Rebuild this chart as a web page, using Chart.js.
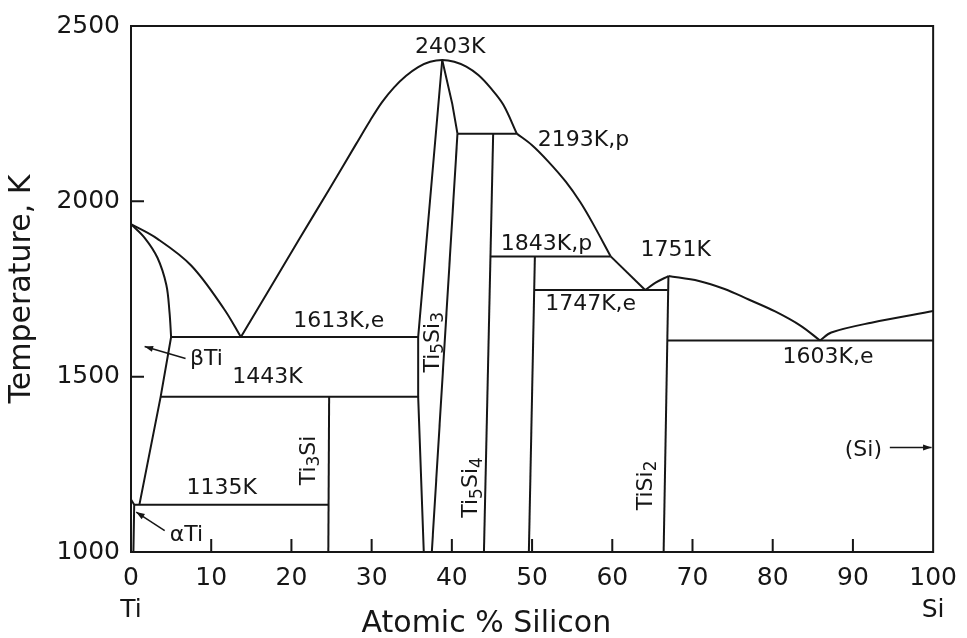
<!DOCTYPE html>
<html>
<head>
<meta charset="utf-8">
<title>Ti-Si phase diagram</title>
<script src="https://cdn.jsdelivr.net/npm/chart.js@4.4.1/dist/chart.umd.min.js"></script>
<style>
  html, body { margin: 0; padding: 0; background: #fff; }
  #wrap { width: 967px; height: 638px; }
</style>
</head>
<body>
<div id="wrap"><canvas id="myChart" width="967" height="638"></canvas></div>
<script>
// x = atomic % silicon, y = temperature in K
var xTicks = [0, 10, 20, 30, 40, 50, 60, 70, 80, 90, 100];
var yTicks = [1000, 1500, 2000, 2500];
var xEndNames = { 0: 'Ti', 100: 'Si' };

// liquidus curves
var tiLiquidus = [[0, 1935], [3.3, 1893], [7.5, 1817], [11.6, 1693], [13.7, 1613]];
var ti5si3Liquidus = [[13.7, 1613], [21.0, 1893], [24.7, 2034], [28.0, 2161], [29.8, 2230], [31.3, 2283],
  [32.8, 2325], [34.3, 2358], [35.8, 2383], [37.3, 2398], [38.8, 2403], [40.3, 2398], [41.8, 2384],
  [43.3, 2360], [44.8, 2324], [46.4, 2276], [48.1, 2193]];
var ti5si4Liquidus = [[48.1, 2193], [50.0, 2160], [52.0, 2114], [54.2, 2056], [56.0, 1998], [57.5, 1940], [59.8, 1843]];
var tisiLiquidus = [[59.8, 1843], [64.1, 1747]];
var tisi2LiquidusLeft = [[64.1, 1747], [65.4, 1768], [67.0, 1787]];
var tisi2LiquidusRight = [[67.0, 1787], [70.8, 1773], [74.0, 1750], [77.0, 1720], [80.3, 1686], [83.5, 1645], [85.9, 1603]];
var siLiquidus = [[85.9, 1603], [87.3, 1626], [92.3, 1654], [100, 1687]];

// beta / alpha Ti boundaries
var betaTiSolidus = [[0, 1935], [1.7, 1896], [3.3, 1839], [4.4, 1762], [4.8, 1684], [5.0, 1613]];
var betaTiSolvus = [[5.0, 1613], [3.7, 1443], [1.05, 1135]];
var alphaTiSolvus = [[0, 1150], [0.4, 1135], [0.3, 1000]];

// isotherms
var iso1135 = [[0.4, 1135], [24.6, 1135]];
var iso1443 = [[3.7, 1443], [35.8, 1443]];
var iso1613 = [[5.0, 1613], [35.8, 1613]];
var iso2193 = [[40.7, 2193], [48.1, 2193]];
var iso1843 = [[44.8, 1843], [59.8, 1843]];
var iso1747 = [[50.3, 1747], [66.9, 1747]];
var iso1603 = [[66.85, 1603], [100, 1603]];

// compound lines
var ti3si = [[24.7, 1443], [24.6, 1000]];
var ti5si3Left = [[38.8, 2403], [35.8, 1613], [35.8, 1443], [36.5, 1000]];
var ti5si3RightTop = [[38.8, 2403], [40.05, 2278], [40.7, 2193]];
var ti5si3RightLow = [[40.7, 2193], [37.5, 1000]];
var ti5si4 = [[45.15, 2193], [44.0, 1000]];
var tisi = [[50.35, 1843], [49.6, 1000]];
var tisi2 = [[67.0, 1787], [66.4, 1000]];

var INK = '#161616';

var lines = [
  { pts: tiLiquidus, smooth: true },
  { pts: ti5si3Liquidus, smooth: true },
  { pts: ti5si4Liquidus, smooth: true },
  { pts: tisiLiquidus, smooth: false },
  { pts: tisi2LiquidusLeft, smooth: true },
  { pts: tisi2LiquidusRight, smooth: true },
  { pts: siLiquidus, smooth: true },
  { pts: betaTiSolidus, smooth: true },
  { pts: betaTiSolvus, smooth: false },
  { pts: alphaTiSolvus, smooth: false },
  { pts: iso1135 }, { pts: iso1443 }, { pts: iso1613 }, { pts: iso2193 },
  { pts: iso1843 }, { pts: iso1747 }, { pts: iso1603 },
  { pts: ti3si }, { pts: ti5si3Left }, { pts: ti5si3RightTop }, { pts: ti5si3RightLow },
  { pts: ti5si4 }, { pts: tisi }, { pts: tisi2 }
];

var datasets = lines.map(function (l) {
  return {
    data: l.pts.map(function (p) { return { x: p[0], y: p[1] }; }),
    showLine: true,
    fill: false,
    borderColor: INK,
    borderWidth: 2,
    pointRadius: 0,
    tension: l.smooth ? 0.35 : 0
  };
});

// labels on the diagram: [text, x, T, rotated]  ('_' = next char is a subscript)
var notes = [
  ['2403K', 39.8, 2439, false],
  ['2193K,p', 56.4, 2174, false],
  ['1843K,p', 51.8, 1878, false],
  ['1751K', 67.9, 1861, false],
  ['1747K,e', 57.3, 1705, false],
  ['1613K,e', 25.9, 1659, false],
  ['1443K', 17.0, 1497, false],
  ['1135K', 11.3, 1181, false],
  ['1603K,e', 86.9, 1554, false],
  ['(Si)', 91.3, 1289, false],
  ['\u03b2Ti', 9.4, 1551, false],
  ['\u03b1Ti', 6.9, 1047, false],
  ['Ti_3Si', 22.2, 1261, true],
  ['Ti_5Si_3', 37.65, 1598, true],
  ['Ti_5Si_4', 42.4, 1184, true],
  ['TiSi_2', 64.2, 1190, true]
];
// arrows: tail x, tail T, head x, head T
var arrows = [
  [6.8, 1552, 1.7, 1586],
  [4.2, 1061, 0.65, 1114],
  [94.6, 1298, 99.8, 1298]
];
var xInnerTicks = [10, 20, 30, 40, 50, 60, 70, 80, 90];
var yInnerTicks = [1500, 2000];

var MAIN_FONT = '22px "DejaVu Sans"';
var SUB_FONT = '17px "DejaVu Sans"';

function drawRich(ctx, str, px, py, rotated) {
  var parts = [];
  for (var i = 0; i < str.length; i++) {
    if (str[i] === '_') { parts.push({ t: str[i + 1], sub: true }); i++; }
    else if (parts.length && !parts[parts.length - 1].sub) parts[parts.length - 1].t += str[i];
    else parts.push({ t: str[i], sub: false });
  }
  var w = 0;
  parts.forEach(function (p) { ctx.font = p.sub ? SUB_FONT : MAIN_FONT; p.w = ctx.measureText(p.t).width; w += p.w; });
  ctx.save();
  ctx.translate(px, py);
  if (rotated) ctx.rotate(-Math.PI / 2);
  ctx.textAlign = 'left';
  ctx.textBaseline = 'middle';
  var x = -w / 2;
  parts.forEach(function (p) {
    ctx.font = p.sub ? SUB_FONT : MAIN_FONT;
    ctx.fillText(p.t, x, p.sub ? 6 : 0);
    x += p.w;
  });
  ctx.restore();
}

var decorate = {
  id: 'decorate',
  afterDraw: function (chart) {
    var ctx = chart.ctx, a = chart.chartArea;
    var xs = chart.scales.x, ys = chart.scales.y;
    ctx.save();
    ctx.strokeStyle = INK;
    ctx.fillStyle = INK;
    ctx.lineWidth = 2;
    ctx.strokeRect(a.left, a.top, a.right - a.left, a.bottom - a.top);

    ctx.beginPath();
    xInnerTicks.forEach(function (v) {
      var px = xs.getPixelForValue(v);
      ctx.moveTo(px, a.bottom); ctx.lineTo(px, a.bottom - 13);
    });
    yInnerTicks.forEach(function (v) {
      var py = ys.getPixelForValue(v);
      ctx.moveTo(a.left, py); ctx.lineTo(a.left + 13, py);
    });
    ctx.stroke();

    ctx.lineWidth = 1.5;
    arrows.forEach(function (r) {
      var x1 = xs.getPixelForValue(r[0]), y1 = ys.getPixelForValue(r[1]);
      var x2 = xs.getPixelForValue(r[2]), y2 = ys.getPixelForValue(r[3]);
      var ang = Math.atan2(y2 - y1, x2 - x1);
      ctx.beginPath(); ctx.moveTo(x1, y1); ctx.lineTo(x2, y2); ctx.stroke();
      ctx.beginPath();
      ctx.moveTo(x2, y2);
      ctx.lineTo(x2 - 9 * Math.cos(ang - 0.35), y2 - 9 * Math.sin(ang - 0.35));
      ctx.lineTo(x2 - 9 * Math.cos(ang + 0.35), y2 - 9 * Math.sin(ang + 0.35));
      ctx.closePath(); ctx.fill();
    });

    notes.forEach(function (n) {
      drawRich(ctx, n[0], xs.getPixelForValue(n[1]), ys.getPixelForValue(n[2]), n[3]);
    });

    ctx.font = '30px "DejaVu Sans"';
    ctx.textAlign = 'center';
    ctx.textBaseline = 'middle';
    ctx.fillText('Atomic % Silicon', a.left + (a.right - a.left) * 0.443, chart.height - 14);
    ctx.restore();
  }
};

var ctx = document.getElementById('myChart').getContext('2d');
var myChart = new Chart(ctx, {
  type: 'scatter',
  data: { datasets: datasets },
  options: {
    responsive: false,
    animation: false,
    devicePixelRatio: 1,
    layout: { padding: { top: 24, right: 32, left: 0, bottom: 0 } },
    plugins: { legend: { display: false }, tooltip: { enabled: false } },
    scales: {
      x: {
        type: 'linear', min: 0, max: 100,
        afterFit: function (s) { s.height = 86; },
        afterBuildTicks: function (s) { s.ticks = xTicks.map(function (v) { return { value: v }; }); },
        grid: { display: false, drawTicks: false },
        border: { display: false },
        ticks: {
          color: INK, padding: 10,
          font: { family: 'DejaVu Sans', size: 25, lineHeight: 1.28 },
          maxRotation: 0, autoSkip: false,
          callback: function (v) { return xEndNames[v] ? [String(v), xEndNames[v]] : String(v); }
        }
      },
      y: {
        type: 'linear', min: 1000, max: 2500,
        afterFit: function (s) { s.width = 131; },
        afterBuildTicks: function (s) { s.ticks = yTicks.map(function (v) { return { value: v }; }); },
        grid: { display: false, drawTicks: false },
        border: { display: false },
        ticks: {
          color: INK, padding: 11, font: { family: 'DejaVu Sans', size: 25 },
          callback: function (v) { return String(v); }
        },
        title: {
          display: true, text: 'Temperature, K', color: INK,
          font: { family: 'DejaVu Sans', size: 30 }, padding: { top: 4, bottom: 0 }
        }
      }
    }
  },
  plugins: [decorate]
});
</script>
</body>
</html>
